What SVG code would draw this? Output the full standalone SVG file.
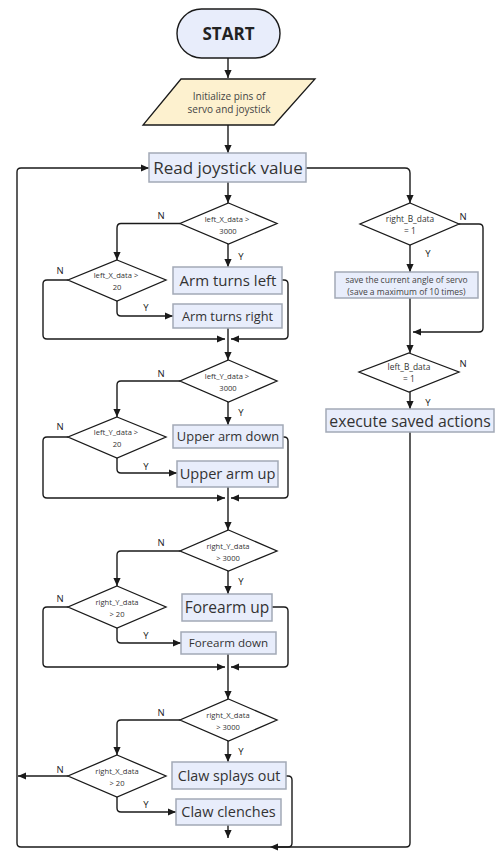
<svg xmlns="http://www.w3.org/2000/svg" width="500" height="867" viewBox="0 0 500 867">
<defs>
<marker id="ah" viewBox="0 0 10 10" refX="10" refY="5" markerWidth="8" markerHeight="8" orient="auto" markerUnits="userSpaceOnUse"><path d="M0,0.5 L10,5 L0,9.5 z" fill="#1a1a1a"/></marker>
<style>
.c{fill:none;stroke:#1a1a1a;stroke-width:1.4}
.box{fill:#e8edfb;stroke:#a2a9b6;stroke-width:1.5}
.dia{fill:#fff;stroke:#1a1a1a;stroke-width:1.3}
.bt{font-family:"Open Sans","Noto Sans",sans-serif;fill:#333;text-anchor:middle}
.dt{font-family:"Open Sans","Noto Sans",sans-serif;font-size:7.6px;fill:#333;text-anchor:middle}
.dt2{font-family:"Open Sans","Noto Sans",sans-serif;font-size:8.4px;fill:#333;text-anchor:middle}
.st{font-family:"Open Sans","Noto Sans",sans-serif;fill:#444;text-anchor:middle}
.lb{font-family:"Open Sans","Noto Sans",sans-serif;font-size:9.5px;fill:#1a1a1a;text-anchor:middle}
</style>
</defs>
<rect width="500" height="867" fill="#fff"/>
<g id="connectors">
<path class="c" d="M228,58 V78" marker-end="url(#ah)"/>
<path class="c" d="M228,125 V153" marker-end="url(#ah)"/>
<path class="c" d="M228,182 V203" marker-end="url(#ah)"/>
<path class="c" d="M306,168 H405 Q410,168 410,173 V203" marker-end="url(#ah)"/>
<path class="c" d="M410,245 V272" marker-end="url(#ah)"/>
<path class="c" d="M459,224 H479 Q483,224 483,228 V328 Q483,332 479,332 H413" marker-end="url(#ah)"/>
<path class="c" d="M410,298 V353" stroke-width="3" marker-end="url(#ah)"/>
<path class="c" d="M410,392 V409" marker-end="url(#ah)"/>
<path class="c" d="M410,432 V843 Q410,847 406,847 H270" marker-end="url(#ah)"/>
<path class="c" d="M270,847 H21 Q17,847 17,843 V172 Q17,168 21,168 H149" marker-end="url(#ah)"/>
<path class="c" d="M286,776 H288 Q292,776 292,780 V843 Q292,847 288,847 H272"/>
<path class="c" d="M228,825 V838" marker-end="url(#ah)"/>
<path class="c" d="M180,223.5 H121 Q117,223.5 117,228 V260" marker-end="url(#ah)"/>
<path class="c" d="M228,244 V267" marker-end="url(#ah)"/>
<path class="c" d="M68,280 H47 Q43,280 43,284 V335 Q43,339 47,339 H225" marker-end="url(#ah)"/>
<path class="c" d="M117,301 V312 Q117,316 121,316 H173" marker-end="url(#ah)"/>
<path class="c" d="M282,280 H284 Q288,280 288,284 V335 Q288,339 284,339 H231" marker-end="url(#ah)"/>
<path class="c" d="M228,328 V360" marker-end="url(#ah)"/>
<path class="c" d="M180,381 H121 Q117,381 117,385 V417" marker-end="url(#ah)"/>
<path class="c" d="M228,402 V425" marker-end="url(#ah)"/>
<path class="c" d="M68,437 H47 Q43,437 43,441 V494 Q43,498 47,498 H225" marker-end="url(#ah)"/>
<path class="c" d="M117,458 V469 Q117,473 121,473 H177" marker-end="url(#ah)"/>
<path class="c" d="M283,437 H284 Q288,437 288,441 V494 Q288,498 284,498 H231" marker-end="url(#ah)"/>
<path class="c" d="M228,487 V530" marker-end="url(#ah)"/>
<path class="c" d="M180,551 H121 Q117,551 117,555 V586" marker-end="url(#ah)"/>
<path class="c" d="M228,571 V594" marker-end="url(#ah)"/>
<path class="c" d="M68,607 H47 Q43,607 43,611 V663 Q43,667 47,667 H225" marker-end="url(#ah)"/>
<path class="c" d="M117,628 V639 Q117,643 121,643 H181" marker-end="url(#ah)"/>
<path class="c" d="M272,607 H284 Q288,607 288,611 V663 Q288,667 284,667 H231" marker-end="url(#ah)"/>
<path class="c" d="M228,654 V699" marker-end="url(#ah)"/>
<path class="c" d="M180,720 H121 Q117,720 117,724 V755" marker-end="url(#ah)"/>
<path class="c" d="M228,741 V762" marker-end="url(#ah)"/>
<path class="c" d="M68,776 H18" marker-end="url(#ah)"/>
<path class="c" d="M117,797 V808 Q117,812 121,812 H176" marker-end="url(#ah)"/>
<text class="lb" x="463" y="220">N</text>
<text class="lb" x="428" y="257">Y</text>
<text class="lb" x="463" y="367">N</text>
<text class="lb" x="428" y="406">Y</text>
<text class="lb" x="161" y="219">N</text>
<text class="lb" x="241" y="260">Y</text>
<text class="lb" x="60" y="274">N</text>
<text class="lb" x="146" y="311">Y</text>
<text class="lb" x="161" y="377">N</text>
<text class="lb" x="241" y="416">Y</text>
<text class="lb" x="60" y="430">N</text>
<text class="lb" x="146" y="470">Y</text>
<text class="lb" x="161" y="546">N</text>
<text class="lb" x="241" y="585">Y</text>
<text class="lb" x="60" y="602">N</text>
<text class="lb" x="146" y="639">Y</text>
<text class="lb" x="161" y="716">N</text>
<text class="lb" x="241" y="755">Y</text>
<text class="lb" x="60" y="773">N</text>
<text class="lb" x="146" y="808">Y</text>
</g>
<g id="start">
<rect x="177" y="9" width="103" height="49" rx="24.5" fill="#e8edfb" stroke="#1a1a1a" stroke-width="1.4"/>
<text x="228.5" y="40" font-family="'Open Sans','Noto Sans',sans-serif" font-size="17" font-weight="bold" fill="#222" text-anchor="middle">START</text>
</g>
<g id="init">
<polygon points="181,79 315,79 274,125 143,125" fill="#fdf1cf" stroke="#1a1a1a" stroke-width="1.3"/>
<text class="st" x="229" y="99.5" style="font-size:10px">Initialize pins of</text>
<text class="st" x="229" y="113" style="font-size:10px">servo and joystick</text>
</g>
<g id="read">
<rect class="box" x="149" y="153" width="157" height="29"/>
<text class="bt" x="228" y="174" style="font-size:17px">Read joystick value</text>
</g>
<g id="d_rightB">
<polygon class="dia" points="410,203 459,224 410,245 360,224"/>
<text class="dt2" x="410" y="222">right_B_data</text>
<text class="dt2" x="410" y="233.5">= 1</text>
</g>
<g id="save">
<rect class="box" x="335" y="272" width="143" height="26"/>
<text class="st" x="406.5" y="283" style="font-size:8.5px">save the current angle of servo</text>
<text class="st" x="406.5" y="295" style="font-size:8.5px">(save a maximum of 10 times)</text>
</g>
<g id="d_leftB">
<polygon class="dia" points="409,353 459,372 409,392 359,372"/>
<text class="dt2" x="409" y="370">left_B_data</text>
<text class="dt2" x="409" y="381.5">= 1</text>
</g>
<g id="execute">
<rect class="box" x="326" y="409" width="168" height="23"/>
<text class="bt" x="410" y="426.5" style="font-size:15.8px">execute saved actions</text>
</g>
<g id="d_lx3000">
<polygon class="dia" points="228.5,203 277,223.5 228.5,244 180,223.5"/>
<text class="dt" x="227" y="222">left_X_data &gt;</text>
<text class="dt" x="228" y="233.5">3000</text>
</g>
<g id="d_lx20">
<polygon class="dia" points="117,260 166,280 117,301 68,280"/>
<text class="dt" x="116" y="278">left_X_data &gt;</text>
<text class="dt" x="117" y="289.5">20</text>
</g>
<g id="arm_left">
<rect class="box" x="173" y="267" width="109" height="27"/>
<text class="bt" x="228" y="286" style="font-size:15px">Arm turns left</text>
</g>
<g id="arm_right">
<rect class="box" x="173" y="304" width="109" height="24"/>
<text class="bt" x="227.5" y="320.5" style="font-size:12.8px">Arm turns right</text>
</g>
<g id="d_ly3000">
<polygon class="dia" points="228.5,360 277,381 228.5,402 180,381"/>
<text class="dt" x="227" y="379">left_Y_data &gt;</text>
<text class="dt" x="228" y="390.5">3000</text>
</g>
<g id="d_ly20">
<polygon class="dia" points="117,417 166,437 117,458 68,437"/>
<text class="dt" x="116" y="435">left_Y_data &gt;</text>
<text class="dt" x="117" y="446.5">20</text>
</g>
<g id="upper_down">
<rect class="box" x="173" y="425" width="110" height="23"/>
<text class="bt" x="228" y="441" style="font-size:12.9px">Upper arm down</text>
</g>
<g id="upper_up">
<rect class="box" x="177" y="461" width="101" height="26"/>
<text class="bt" x="227.5" y="479" style="font-size:14.6px">Upper arm up</text>
</g>
<g id="d_ry3000">
<polygon class="dia" points="228.5,530 277,551 228.5,571 180,551"/>
<text class="dt" x="228" y="549">right_Y_data</text>
<text class="dt" x="228" y="560.5">&gt; 3000</text>
</g>
<g id="d_ry20">
<polygon class="dia" points="117,586 166,607 117,628 68,607"/>
<text class="dt" x="117" y="605">right_Y_data</text>
<text class="dt" x="117" y="616.5">&gt; 20</text>
</g>
<g id="forearm_up">
<rect class="box" x="182" y="594" width="90" height="27"/>
<text class="bt" x="227" y="612.5" style="font-size:15.5px">Forearm up</text>
</g>
<g id="forearm_down">
<rect class="box" x="181" y="632" width="95" height="22"/>
<text class="bt" x="228.5" y="647" style="font-size:11.6px">Forearm down</text>
</g>
<g id="d_rx3000">
<polygon class="dia" points="228.5,699 277,720 228.5,741 180,720"/>
<text class="dt" x="228" y="718">right_X_data</text>
<text class="dt" x="228" y="729.5">&gt; 3000</text>
</g>
<g id="d_rx20">
<polygon class="dia" points="117,755 166,776 117,797 68,776"/>
<text class="dt" x="117" y="774">right_X_data</text>
<text class="dt" x="117" y="785.5">&gt; 20</text>
</g>
<g id="claw_out">
<rect class="box" x="172" y="762" width="114" height="27"/>
<text class="bt" x="229" y="780.5" style="font-size:14.3px">Claw splays out</text>
</g>
<g id="claw_clench">
<rect class="box" x="176" y="799" width="105" height="26"/>
<text class="bt" x="228.5" y="817" style="font-size:14.5px">Claw clenches</text>
</g>
</svg>
